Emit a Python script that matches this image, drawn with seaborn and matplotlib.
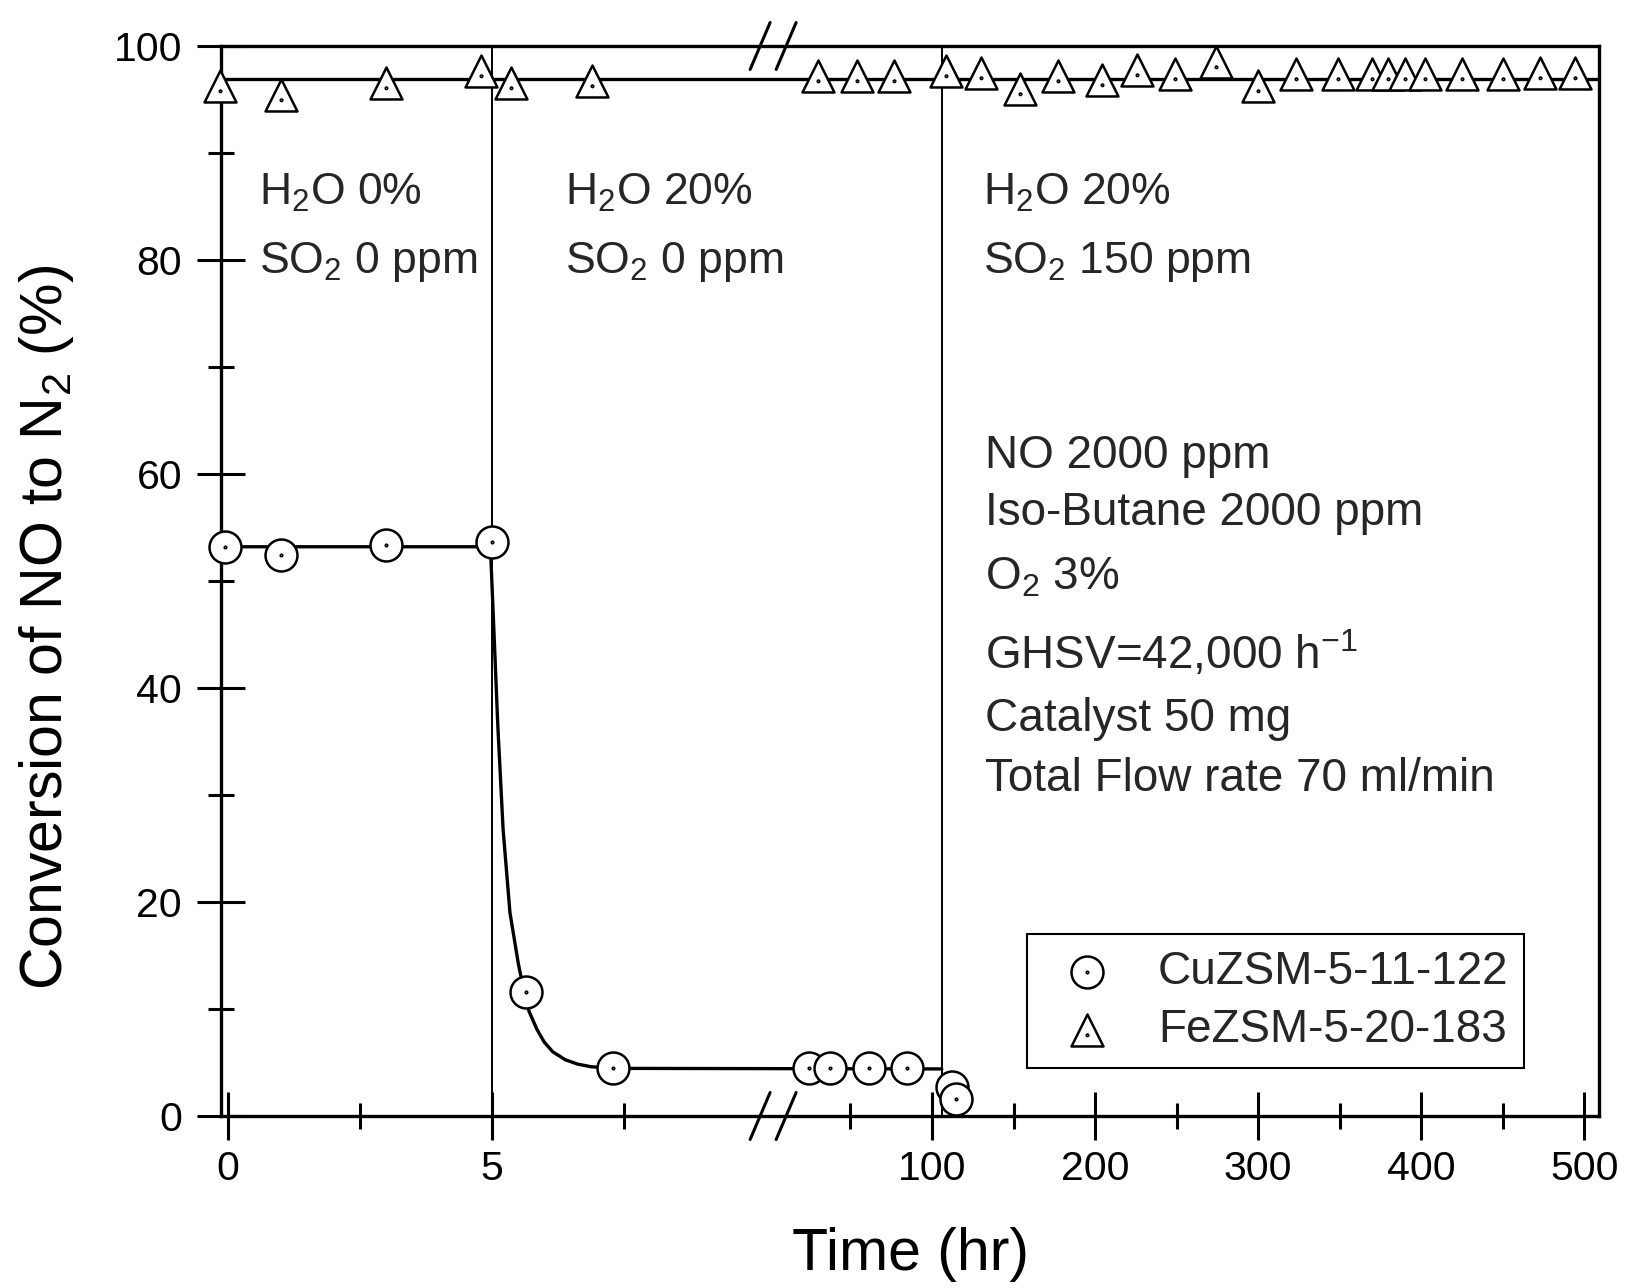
import numpy as np
import pandas as pd
import matplotlib
matplotlib.use("Agg")
import matplotlib.pyplot as plt
import seaborn as sns
from matplotlib.path import Path
from matplotlib.ticker import FixedLocator, FixedFormatter, NullFormatter

# ---------------- data ----------------
cu_time = [-0.05, 1, 3, 5, 5.64, 7.3, 24.7, 37.3, 61.5, 84.8, 112.4, 114.8]
cu_conv = [53.2, 52.4, 53.4, 53.6, 11.6, 4.5, 4.5, 4.5, 4.5, 4.5, 2.7, 1.6]

fe_time = [-0.15, 1, 3, 4.8, 5.36, 6.9, 30.3, 53.9, 76.8, 108.5, 130, 154, 177, 204,
           226, 249, 274, 300, 323, 349, 369.5, 379.6, 390, 402, 425, 450, 473, 494.5]
fe_conv = [96.3, 95.4, 96.5, 97.7, 96.5, 96.7, 97.2, 97.2, 97.2, 97.7, 97.5, 96.0, 97.2, 96.8,
           97.8, 97.4, 98.5, 96.3, 97.4, 97.4, 97.4, 97.4, 97.4, 97.4, 97.4, 97.4, 97.5, 97.5]

# guide curves drawn through the data
cu_fit_time = [-0.05, 4.97, 5.03, 5.11, 5.21, 5.34, 5.50, 5.60, 5.70, 5.85, 5.99, 6.15,
               6.39, 6.62, 6.88, 7.47, 106]
cu_fit_conv = [53.2, 53.2, 46.1, 36.5, 26.8, 19.0, 14.2, 11.8, 9.8, 8.1, 6.9, 6.0,
               5.25, 4.85, 4.6, 4.45, 4.4]
fe_fit_time = [-0.13, 509]
fe_fit_conv = [96.9, 96.9]

switch_times = [5, 106]

series_labels = ["CuZSM-5-11-122", "FeZSM-5-20-183"]
xtick_major = [0, 5, 100, 200, 300, 400, 500]
xtick_labels = ["0", "5", "100", "200", "300", "400", "500"]
xtick_minor = [2.5, 7.5, 50, 150, 250, 350, 450]
ytick_major = [0, 20, 40, 60, 80, 100]
ytick_minor = [10, 30, 50, 70, 90]

region_texts = [
    (r"H$_\mathregular{2}$O 0%", r"SO$_\mathregular{2}$ 0 ppm"),
    (r"H$_\mathregular{2}$O 20%", r"SO$_\mathregular{2}$ 0 ppm"),
    (r"H$_\mathregular{2}$O 20%", r"SO$_\mathregular{2}$ 150 ppm"),
]
condition_texts = ["NO 2000 ppm", "Iso-Butane 2000 ppm", r"O$_\mathregular{2}$ 3%",
                   r"GHSV=42,000 h$^\mathregular{-1}$", "Catalyst 50 mg",
                   "Total Flow rate 70 ml/min"]

# ---------------- style ----------------
sns.set_theme(style="ticks")
plt.rcParams["font.family"] = ["Liberation Sans", "DejaVu Sans"]
plt.rcParams["mathtext.fontset"] = "custom"
plt.rcParams["mathtext.rm"] = "Liberation Sans"
plt.rcParams["mathtext.it"] = "Liberation Sans:italic"
plt.rcParams["mathtext.bf"] = "Liberation Sans:bold"

# broken time axis: 0-10 h stretched, then 13-500 h compressed
knots_t = np.array([-1.0, 10.0, 13.0, 600.0])
knots_u = np.array([-52.8, 528.0, 562.0, 562.0 + 1.63 * 587.0])

def fwd(t):
    return np.interp(np.asarray(t, dtype=float), knots_t, knots_u)

def inv(u):
    return np.interp(np.asarray(u, dtype=float), knots_u, knots_t)

fig = plt.figure(figsize=(16.26, 12.88), dpi=100)
ax = fig.add_axes([221 / 1626, 1 - 1116 / 1288, 1378 / 1626, 1070 / 1288])

cu_df = pd.DataFrame({"time": cu_time, "conv": cu_conv})
fe_df = pd.DataFrame({"time": fe_time, "conv": fe_conv})
cu_fit = pd.DataFrame({"time": cu_fit_time, "conv": cu_fit_conv})
fe_fit = pd.DataFrame({"time": fe_fit_time, "conv": fe_fit_conv})

# region boundaries
for t in switch_times:
    ax.axvline(t, color="black", lw=1.4, zorder=1)

sns.lineplot(data=cu_fit, x="time", y="conv", color="black", lw=2.4, sort=False,
             estimator=None, ax=ax, zorder=2)
sns.lineplot(data=fe_fit, x="time", y="conv", color="black", lw=2.4, sort=False,
             estimator=None, ax=ax, zorder=2)

circ_dot = Path.make_compound_path(Path.unit_circle(), Path.circle((0, 0), 0.05))
tri = Path([(0, 1), (-1, -1), (1, -1), (0, 1)],
           [Path.MOVETO, Path.LINETO, Path.LINETO, Path.CLOSEPOLY])
tri_dot = Path.make_compound_path(tri, Path.circle((0, -0.3), 0.05))

sns.scatterplot(data=cu_df, x="time", y="conv", marker=circ_dot, s=23 ** 2,
                color="white", edgecolor="black", linewidth=1.8, ax=ax, zorder=3,
                label=series_labels[0], clip_on=False)
sns.scatterplot(data=fe_df, x="time", y="conv", marker=tri_dot, s=23 ** 2,
                color="white", edgecolor="black", linewidth=1.8, ax=ax, zorder=3,
                label=series_labels[1], clip_on=False)

ax.set_xscale("function", functions=(fwd, inv))
ax.set_xlim(-0.13, 509)
ax.set_ylim(0, 100)

ax.xaxis.set_major_locator(FixedLocator(xtick_major))
ax.xaxis.set_major_formatter(FixedFormatter(xtick_labels))
ax.xaxis.set_minor_locator(FixedLocator(xtick_minor))
ax.xaxis.set_minor_formatter(NullFormatter())
ax.yaxis.set_major_locator(FixedLocator(ytick_major))
ax.yaxis.set_minor_locator(FixedLocator(ytick_minor))
ax.yaxis.set_minor_formatter(NullFormatter())

ax.tick_params(axis="both", which="major", direction="inout", length=34, width=2.2,
               labelsize=29.5, color="black", labelcolor="black")
ax.tick_params(axis="both", which="minor", direction="inout", length=19, width=2.2,
               color="black")
ax.tick_params(axis="x", which="major", pad=7.5)
ax.tick_params(axis="y", which="major", pad=11)

for sp in ax.spines.values():
    sp.set_linewidth(2.4)
    sp.set_color("black")

ax.set_xlabel("Time (hr)", fontsize=42.5, color="black")
ax.set_ylabel(r"Conversion of NO to N$_\mathregular{2}$ (%)", fontsize=42.5, color="black")
ax.xaxis.set_label_coords(0.5, -0.1037)
ax.yaxis.set_label_coords(-0.105, 0.457)

# annotations
region_x = [0.0276, 0.2497, 0.553]
for (l1, l2), xx in zip(region_texts, region_x):
    ax.text(xx, 0.852, l1, transform=ax.transAxes, fontsize=32, va="baseline", ha="left")
    ax.text(xx, 0.788, l2, transform=ax.transAxes, fontsize=32, va="baseline", ha="left")

cond_y = [0.606, 0.552, 0.4925, 0.418, 0.360, 0.304]
for txt, yy in zip(condition_texts, cond_y):
    ax.text(0.5545, yy, txt, transform=ax.transAxes, fontsize=33, va="baseline", ha="left")

# axis break marks
xc = ax.transAxes.inverted().transform(ax.transData.transform((11.5, 0)))[0]
dx, dy, gap = 20 / 1378, 47 / 1070, 26 / 1378
for ybase in (0.0, 1.0):
    for off in (-gap / 2, gap / 2):
        c = xc + off
        ax.plot([c - dx / 2, c + dx / 2], [ybase - dy / 2, ybase + dy / 2],
                transform=ax.transAxes, color="black", lw=2.2, clip_on=False, zorder=5)

leg = ax.legend(loc="lower left", bbox_to_anchor=(0.585, 0.045), fontsize=33,
                frameon=True, fancybox=False, framealpha=1, edgecolor="black",
                borderpad=0.35, handlelength=1.9, handletextpad=0.6, labelspacing=0.3,
                borderaxespad=0)
leg.get_frame().set_linewidth(1.5)

fig.savefig("out.png", dpi=100)
